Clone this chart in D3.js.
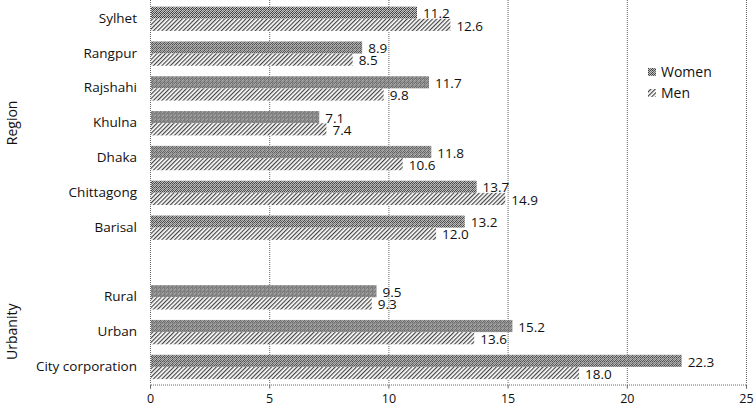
<!DOCTYPE html>
<html>
<head>
<meta charset="utf-8">
<script src="https://cdn.jsdelivr.net/npm/d3@7"></script>
<style>
  body { margin: 0; background: #fff; }
  svg { font-family: "Open Sans", sans-serif; }
</style>
</head>
<body>
<script>
const categories = ["Sylhet", "Rangpur", "Rajshahi", "Khulna", "Dhaka", "Chittagong", "Barisal", "", "Rural", "Urban", "City corporation"];
const series = ["Women", "Men"];
const women = [11.2, 8.9, 11.7, 7.1, 11.8, 13.7, 13.2, null, 9.5, 15.2, 22.3];
const men = [12.6, 8.5, 9.8, 7.4, 10.6, 14.9, 12.0, null, 9.3, 13.6, 18.0];
const xTicks = [0, 5, 10, 15, 20, 25];
const groups = [
    { name: "Region", from: "Sylhet", to: "Barisal" },
    { name: "Urbanity", from: "Rural", to: "City corporation" }
];

const width = 754;
const height = 406;
const plotLeft = 150, plotRight = 746, plotTop = 1, plotBottom = 384;

const svg = d3.select("body").append("svg")
    .attr("width", width)
    .attr("height", height);

// patterns
const defs = svg.append("defs");
const pw = defs.append("pattern")
    .attr("id", "pat-women")
    .attr("patternUnits", "userSpaceOnUse")
    .attr("width", 4).attr("height", 4);
pw.append("rect").attr("width", 4).attr("height", 4).attr("fill", "#c4c4c4");
[[0, 0, "#3a3a3a"], [2, 0, "#3a3a3a"], [1, 1, "#555"], [3, 1, "#777"],
 [0, 2, "#3a3a3a"], [2, 2, "#777"], [1, 3, "#555"], [3, 3, "#3a3a3a"]].forEach(p => {
    pw.append("rect").attr("x", p[0]).attr("y", p[1]).attr("width", 1).attr("height", 1).attr("fill", p[2]);
});

const pm = defs.append("pattern")
    .attr("id", "pat-men")
    .attr("patternUnits", "userSpaceOnUse")
    .attr("width", 3).attr("height", 3)
    .attr("patternTransform", "rotate(45)");
pm.append("rect").attr("width", 3).attr("height", 3).attr("fill", "#fff");
pm.append("rect").attr("x", 0).attr("y", 0).attr("width", 1.2).attr("height", 3).attr("fill", "#444");

const fills = { Women: "url(#pat-women)", Men: "url(#pat-men)" };

const x = d3.scaleLinear().domain([0, 25]).range([plotLeft, plotRight]);
const y = d3.scaleBand().domain(categories).range([plotTop, plotBottom]).padding(0);
const ySeries = d3.scaleBand().domain(series)
    .range([y.bandwidth() * 0.16, y.bandwidth() * 0.86]);

// grid
svg.append("g").selectAll("line")
    .data(xTicks)
    .join("line")
    .attr("x1", d => x(d) + 0.5).attr("x2", d => x(d) + 0.5)
    .attr("y1", 0).attr("y2", plotBottom)
    .attr("stroke", "#666")
    .attr("stroke-width", 1)
    .attr("stroke-dasharray", "1,1");

// x axis
const xAxis = svg.append("g")
    .attr("transform", `translate(0,${plotBottom + 0.5})`)
    .call(d3.axisBottom(x).tickValues(xTicks).tickSize(4).tickPadding(6).tickFormat(d3.format("d")));
xAxis.select(".domain").attr("stroke", "#666").attr("stroke-dasharray", "1,1");
xAxis.selectAll(".tick line").attr("stroke", "#666");
xAxis.selectAll("text").attr("font-size", 12.5).attr("fill", "#111").attr("font-family", "Open Sans, sans-serif");

// y axis labels
const yAxis = svg.append("g")
    .attr("transform", `translate(${plotLeft},0)`)
    .call(d3.axisLeft(y).tickSize(0).tickPadding(13));
yAxis.select(".domain").remove();
yAxis.selectAll("text").attr("font-size", 13.5).attr("fill", "#111").attr("font-family", "Open Sans, sans-serif");

// bars
const rows = categories.map((c, i) => ({ cat: c, Women: women[i], Men: men[i] }))
    .filter(d => d.Women != null);

const groupG = svg.append("g").selectAll("g")
    .data(rows)
    .join("g")
    .attr("transform", d => `translate(0,${y(d.cat)})`);

groupG.selectAll("rect")
    .data(d => series.map(s => ({ s, v: d[s] })))
    .join("rect")
    .attr("x", x(0) + 1)
    .attr("y", d => ySeries(d.s))
    .attr("width", d => x(d.v) - x(0) - 1)
    .attr("height", ySeries.bandwidth())
    .attr("fill", d => fills[d.s]);

groupG.selectAll("text")
    .data(d => series.map(s => ({ s, v: d[s] })))
    .join("text")
    .attr("x", d => x(d.v) + 6)
    .attr("y", d => ySeries(d.s) + ySeries.bandwidth() / 2 + 1)
    .attr("dy", "0.35em")
    .attr("font-size", 13.5)
    .attr("fill", "#111")
    .text(d => d3.format(".1f")(d.v));

// group labels
svg.append("g").selectAll("text")
    .data(groups)
    .join("text")
    .attr("transform", d => {
        const cy = (y(d.from) + y(d.to) + y.bandwidth()) / 2;
        return `translate(17,${cy}) rotate(-90)`;
    })
    .attr("text-anchor", "middle")
    .attr("font-size", 14)
    .attr("fill", "#111")
    .text(d => d.name);

// legend
const legend = svg.append("g")
    .attr("transform", "translate(648,66)");
const li = legend.selectAll("g")
    .data(series)
    .join("g")
    .attr("transform", (d, i) => `translate(0,${i * 21})`);
li.append("rect")
    .attr("width", 8).attr("height", 8)
    .attr("y", 2)
    .attr("fill", d => fills[d]);
li.append("text")
    .attr("x", 13)
    .attr("y", 6)
    .attr("dy", "0.35em")
    .attr("font-size", 14)
    .attr("fill", "#111")
    .text(d => d);
</script>
</body>
</html>
